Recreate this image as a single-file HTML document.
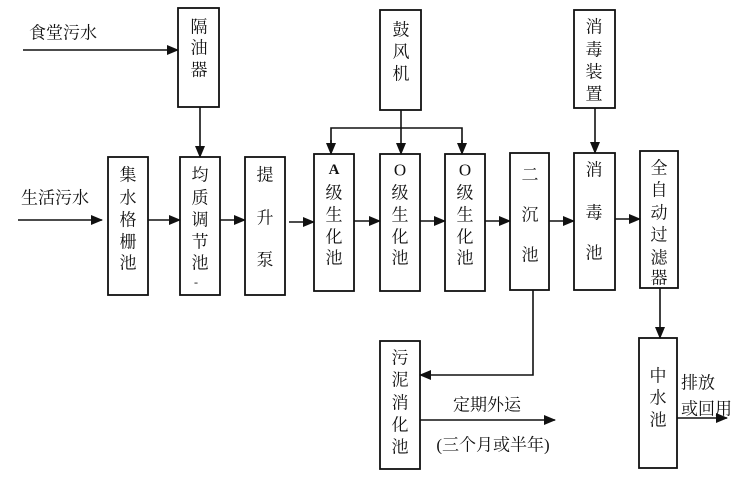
<!DOCTYPE html>
<html><head><meta charset="utf-8"><style>
body{margin:0;background:#fff}
svg{display:block}
text{font-family:"Liberation Serif","Noto Serif CJK SC","Noto Sans CJK SC",serif;font-size:17px;fill:#111;text-anchor:middle;dominant-baseline:central}
.l{text-anchor:start}
rect{fill:none;stroke:#111;stroke-width:1.8}
line,polyline{stroke:#111;stroke-width:1.6;fill:none}
</style></head><body>
<svg width="734" height="493" viewBox="0 0 734 493">
<defs><marker id="a" markerWidth="12" markerHeight="10" refX="11" refY="5" orient="auto" markerUnits="userSpaceOnUse"><path d="M0,0 L12,5 L0,10z" fill="#111"/></marker></defs>
<rect x="178" y="8" width="41" height="99"/>
<rect x="108" y="157" width="40" height="138"/>
<rect x="180" y="157" width="40" height="138"/>
<rect x="245" y="157" width="40" height="138"/>
<rect x="314" y="154" width="40" height="137"/>
<rect x="380" y="10" width="41" height="100"/>
<rect x="380" y="154" width="40" height="137"/>
<rect x="445" y="154" width="40" height="137"/>
<rect x="510" y="153" width="39" height="137"/>
<rect x="574" y="10" width="41" height="98"/>
<rect x="574" y="153" width="41" height="137"/>
<rect x="640" y="151" width="38" height="137"/>
<rect x="380" y="341" width="40" height="128"/>
<rect x="639" y="338" width="38" height="130"/>
<line x1="23" y1="50" x2="178" y2="50" marker-end="url(#a)"/>
<line x1="18" y1="220" x2="102" y2="220" marker-end="url(#a)"/>
<line x1="200" y1="107" x2="200" y2="157" marker-end="url(#a)"/>
<line x1="148" y1="220" x2="180" y2="220" marker-end="url(#a)"/>
<line x1="220" y1="220" x2="245" y2="220" marker-end="url(#a)"/>
<line x1="289" y1="222" x2="314" y2="222" marker-end="url(#a)"/>
<line x1="354" y1="221" x2="380" y2="221" marker-end="url(#a)"/>
<line x1="420" y1="221" x2="445" y2="221" marker-end="url(#a)"/>
<line x1="485" y1="221" x2="510" y2="221" marker-end="url(#a)"/>
<line x1="549" y1="221" x2="574" y2="221" marker-end="url(#a)"/>
<line x1="615" y1="219" x2="640" y2="219" marker-end="url(#a)"/>
<polyline points="331,154 331,128 462,128 462,154"/>
<line x1="331" y1="140" x2="331" y2="154" marker-end="url(#a)"/>
<line x1="462" y1="140" x2="462" y2="154" marker-end="url(#a)"/>
<line x1="401" y1="110" x2="401" y2="154" marker-end="url(#a)"/>
<line x1="595" y1="108" x2="595" y2="153" marker-end="url(#a)"/>
<polyline points="533,290 533,375 420,375" marker-end="url(#a)"/>
<line x1="660" y1="288" x2="660" y2="338" marker-end="url(#a)"/>
<line x1="420" y1="420" x2="555" y2="420" marker-end="url(#a)"/>
<line x1="677" y1="418" x2="727" y2="418" marker-end="url(#a)"/>
<text x="63" y="33">食堂污水</text>
<text x="55" y="198">生活污水</text>
<text x="199" y="27">隔</text><text x="199" y="48">油</text><text x="199" y="70">器</text>
<text x="128" y="175">集</text><text x="128" y="198">水</text><text x="128" y="220">格</text><text x="128" y="242">栅</text><text x="128" y="263">池</text>
<text x="200" y="175">均</text><text x="200" y="198">质</text><text x="200" y="220">调</text><text x="200" y="242">节</text><text x="200" y="263">池</text><text x="196" y="282" style="font-size:12px">-</text>
<text x="265" y="175">提</text><text x="265" y="218">升</text><text x="265" y="260">泵</text>
<text x="334" y="170" style="font-weight:bold;font-size:15px">A</text><text x="334" y="193">级</text><text x="334" y="215">生</text><text x="334" y="237">化</text><text x="334" y="258">池</text>
<text x="401" y="30">鼓</text><text x="401" y="52">风</text><text x="401" y="74">机</text>
<text x="400" y="170">O</text><text x="400" y="193">级</text><text x="400" y="215">生</text><text x="400" y="237">化</text><text x="400" y="258">池</text>
<text x="465" y="170">O</text><text x="465" y="193">级</text><text x="465" y="215">生</text><text x="465" y="237">化</text><text x="465" y="258">池</text>
<text x="530" y="175">二</text><text x="530" y="215">沉</text><text x="530" y="255">池</text>
<text x="594" y="27">消</text><text x="594" y="50">毒</text><text x="594" y="72">装</text><text x="594" y="94">置</text>
<text x="594" y="170">消</text><text x="594" y="213">毒</text><text x="594" y="253">池</text>
<text x="659" y="168">全</text><text x="659" y="190">自</text><text x="659" y="213">动</text><text x="659" y="235">过</text><text x="659" y="258">滤</text><text x="659" y="278">器</text>
<text x="400" y="358">污</text><text x="400" y="380">泥</text><text x="400" y="403">消</text><text x="400" y="425">化</text><text x="400" y="447">池</text>
<text x="658" y="376">中</text><text x="658" y="398">水</text><text x="658" y="420">池</text>
<text class="l" x="681" y="383">排放</text>
<text class="l" x="681" y="409">或回用</text>
<text x="487" y="405">定期外运</text>
<text x="493" y="445">(三个月或半年)</text>
</svg>
</body></html>
